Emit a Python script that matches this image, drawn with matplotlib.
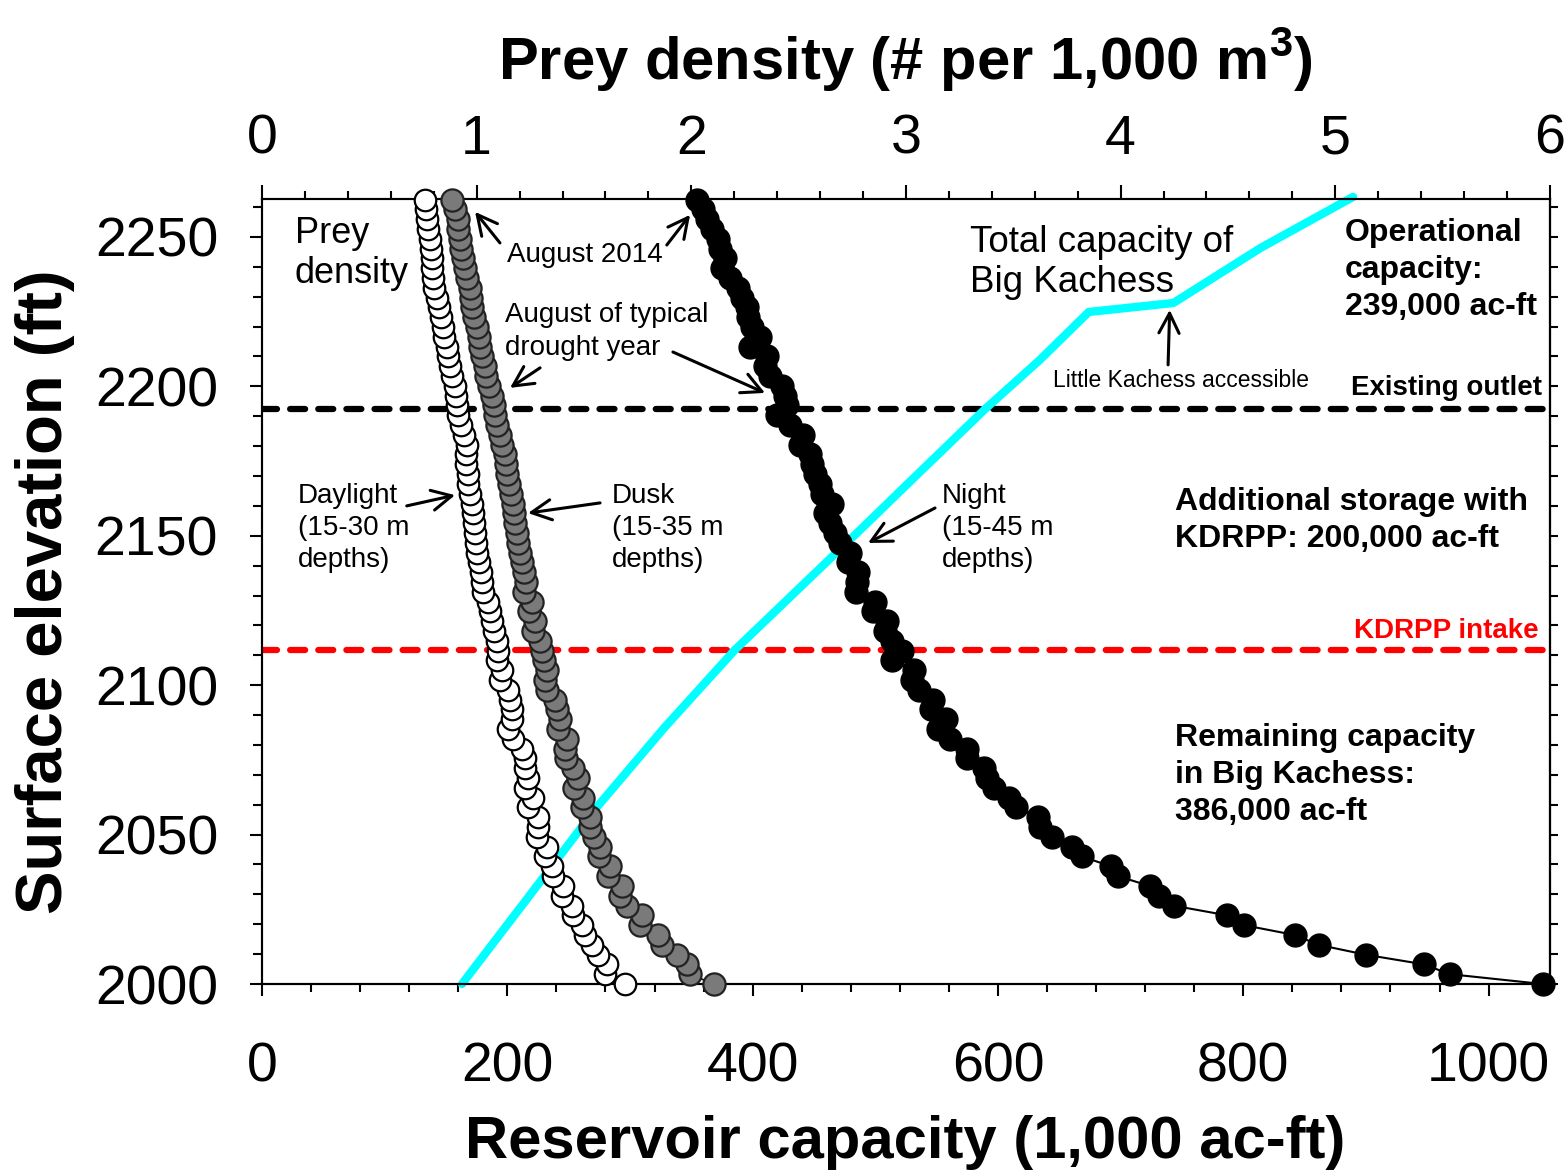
import numpy as np
import matplotlib
matplotlib.use("Agg")
import matplotlib.pyplot as plt
from matplotlib.ticker import MultipleLocator

plt.rcParams["font.family"] = "Liberation Sans"
plt.rcParams["mathtext.fontset"] = "custom"
plt.rcParams["mathtext.rm"] = "Liberation Sans"
plt.rcParams["mathtext.bf"] = "Liberation Sans:bold"

# surface elevation (ft), one sample per metre of depth
elev = [2000.0, 2003.3, 2006.6, 2009.8, 2013.1, 2016.4, 2019.7, 2023.0, 2026.2, 2029.5,
        2032.8, 2036.1, 2039.4, 2042.7, 2045.9, 2049.2, 2052.5, 2055.8, 2059.1, 2062.3,
        2065.6, 2068.9, 2072.2, 2075.5, 2078.7, 2082.0, 2085.3, 2088.6, 2091.9, 2095.1,
        2098.4, 2101.7, 2105.0, 2108.3, 2111.6, 2114.8, 2118.1, 2121.4, 2124.7, 2128.0,
        2131.2, 2134.5, 2137.8, 2141.1, 2144.4, 2147.6, 2150.9, 2154.2, 2157.5, 2160.8,
        2164.0, 2167.3, 2170.6, 2173.9, 2177.2, 2180.5, 2183.7, 2187.0, 2190.3, 2193.6,
        2196.9, 2200.1, 2203.4, 2206.7, 2210.0, 2213.3, 2216.5, 2219.8, 2223.1, 2226.4,
        2229.7, 2232.9, 2236.2, 2239.5, 2242.8, 2246.1, 2249.3, 2252.6, 2255.9, 2259.2,
        2262.5]

# prey density (# per 1,000 m3)
daylight = [1.691, 1.598, 1.607, 1.565, 1.537, 1.504, 1.490, 1.449, 1.444, 1.397,
            1.402, 1.355, 1.351, 1.318, 1.327, 1.281, 1.286, 1.286, 1.239, 1.262,
            1.225, 1.239, 1.225, 1.225, 1.211, 1.169, 1.146, 1.164, 1.164, 1.155,
            1.146, 1.109, 1.118, 1.095, 1.099, 1.095, 1.081, 1.071, 1.062, 1.053,
            1.029, 1.025, 1.020, 1.011, 1.001, 0.997, 0.992, 0.987, 0.983, 0.978,
            0.969, 0.959, 0.959, 0.950, 0.950, 0.955, 0.941, 0.927, 0.913, 0.908,
            0.904, 0.899, 0.885, 0.876, 0.866, 0.862, 0.848, 0.843, 0.834, 0.824,
            0.815, 0.801, 0.796, 0.792, 0.792, 0.787, 0.782, 0.773, 0.769, 0.764,
            0.759]
dusk = [2.105, 1.993, 1.980, 1.933, 1.863, 1.844, 1.761, 1.770, 1.700, 1.667,
        1.677, 1.612, 1.621, 1.570, 1.574, 1.546, 1.528, 1.528, 1.490, 1.495,
        1.453, 1.472, 1.449, 1.416, 1.411, 1.421, 1.379, 1.388, 1.374, 1.365,
        1.327, 1.318, 1.327, 1.313, 1.304, 1.295, 1.262, 1.272, 1.244, 1.258,
        1.220, 1.230, 1.220, 1.211, 1.202, 1.192, 1.188, 1.178, 1.174, 1.169,
        1.160, 1.150, 1.141, 1.136, 1.132, 1.118, 1.109, 1.095, 1.085, 1.081,
        1.071, 1.057, 1.043, 1.039, 1.025, 1.015, 1.011, 1.001, 0.987, 0.978,
        0.973, 0.969, 0.955, 0.946, 0.936, 0.927, 0.922, 0.913, 0.913, 0.899,
        0.885]
night = [5.966, 5.533, 5.412, 5.142, 4.923, 4.811, 4.574, 4.495, 4.248, 4.178,
         4.136, 3.987, 3.954, 3.819, 3.773, 3.680, 3.624, 3.614, 3.512, 3.479,
         3.409, 3.377, 3.363, 3.284, 3.284, 3.204, 3.149, 3.186, 3.116, 3.125,
         3.060, 3.027, 3.037, 2.934, 2.981, 2.934, 2.902, 2.911, 2.846, 2.855,
         2.767, 2.771, 2.776, 2.729, 2.739, 2.692, 2.669, 2.646, 2.622, 2.655,
         2.608, 2.599, 2.576, 2.562, 2.552, 2.506, 2.520, 2.459, 2.399, 2.445,
         2.436, 2.422, 2.366, 2.343, 2.352, 2.273, 2.320, 2.282, 2.264, 2.259,
         2.236, 2.217, 2.180, 2.143, 2.156, 2.133, 2.124, 2.096, 2.073, 2.054,
         2.026]

# total capacity of Big Kachess (1,000 ac-ft) vs elevation
cap_kaf = [163, 218.5, 273, 328.5, 385.5, 445, 487.5, 536.5, 589.5, 634, 674, 743, 814, 889.5]
cap_elev = [2000, 2029.8, 2059.2, 2086.0, 2111.8, 2135.2, 2151.9, 2171.4, 2192.4, 2208.8,
            2224.9, 2227.9, 2246.3, 2263.4]

outlet_elev = 2192.4
intake_elev = 2111.8

fig = plt.figure(figsize=(15.67, 11.72), dpi=100)
ax = fig.add_axes([0.1672, 0.1604, 0.8219, 0.6698])
ax.set_xlim(0, 1050)
ax.set_ylim(2000, 2262.7)

ax.plot(cap_kaf, cap_elev, color="#00FFFF", lw=6, solid_capstyle="round", solid_joinstyle="round",
        zorder=2, clip_on=False)
ax.axhline(outlet_elev, color="black", lw=4.5, dashes=(2.4, 2.1), dash_capstyle="round", zorder=1)
ax.axhline(intake_elev, color="red", lw=4.5, dashes=(2.4, 2.1), dash_capstyle="round", zorder=1)

ax.xaxis.set_major_locator(MultipleLocator(200))
ax.xaxis.set_minor_locator(MultipleLocator(40))
ax.yaxis.set_major_locator(MultipleLocator(50))
ax.yaxis.set_minor_locator(MultipleLocator(10))
ax.tick_params(axis="x", which="major", length=8.6, width=1.5, labelsize=40, pad=33)
ax.tick_params(axis="x", which="minor", length=5.8, width=1.5)
ax.tick_params(axis="y", which="major", length=8.6, width=1.5, labelsize=40, pad=23)
ax.tick_params(axis="y", which="minor", length=6.5, width=1.5)

sec = ax.secondary_yaxis("right")
sec.set_yticks(np.arange(2000, 2261, 10))
sec.tick_params(length=6, width=1.5, labelright=False)
sec.spines["right"].set_linewidth(1.5)

ax2 = ax.twiny()
ax2.set_xlim(0, 6)
ax2.xaxis.set_major_locator(MultipleLocator(1))
ax2.xaxis.set_minor_locator(MultipleLocator(0.2))
ax2.tick_params(axis="x", which="major", length=10, width=1.5, labelsize=40, pad=14)
ax2.tick_params(axis="x", which="minor", length=5.8, width=1.5)

for a in (ax, ax2):
    for s in a.spines.values():
        s.set_linewidth(1.5)

ax2.plot(daylight, elev, "-", color="black", lw=1.2, marker="o", ms=15.5,
         mfc="white", mec="black", mew=1.6, clip_on=False, zorder=3)
ax2.plot(dusk, elev, "-", color="black", lw=1.2, marker="o", ms=16,
         mfc="#7a7a7a", mec="#222222", mew=1.6, clip_on=False, zorder=3)
ax2.plot(night, elev, "-", color="black", lw=1.5, marker="o", ms=16.5,
         mfc="black", mec="black", mew=1.0, clip_on=False, zorder=3)

# labels
fig.text(905 / 1567, 1 - 80 / 1172, r"Prey density (# per 1,000 m$^{\mathbf{3}}$)",
         ha="center", va="baseline", fontsize=43, fontweight="bold")
fig.text(905 / 1567, 1 - 1158 / 1172, "Reservoir capacity (1,000 ac-ft)",
         ha="center", va="baseline", fontsize=43, fontweight="bold")
fig.text(45 / 1567, 1 - 592 / 1172, "Surface elevation (ft)", rotation=90,
         ha="center", va="center", fontsize=47, fontweight="bold")

# annotations
ax.text(26.9, 2244.5, "Prey\ndensity", fontsize=26, ha="left", va="center", linespacing=1.2)
ax.text(577, 2241.5, "Total capacity of\nBig Kachess", fontsize=26.5, ha="left", va="center",
        linespacing=1.2)
ax.text(199.8, 2244.0, "August 2014", fontsize=20, ha="left", va="center")
ax.text(198, 2218.4, "August of typical\ndrought year", fontsize=20, ha="left", va="center",
        linespacing=1.35)
ax.text(29.4, 2152.6, "Daylight\n(15-30 m\ndepths)", fontsize=20, ha="left", va="center",
        linespacing=1.3)
ax.text(285.4, 2152.6, "Dusk\n(15-35 m\ndepths)", fontsize=20, ha="left", va="center",
        linespacing=1.3)
ax.text(554.4, 2152.6, "Night\n(15-45 m\ndepths)", fontsize=20, ha="left", va="center",
        linespacing=1.3)
ax.text(645, 2201.8, "Little Kachess accessible", fontsize=16.5, ha="left", va="center")
ax.text(883, 2239.0, "Operational\ncapacity:\n239,000 ac-ft", fontsize=23, fontweight="bold",
        ha="left", va="center", linespacing=1.3)
ax.text(1043.6, 2199.5, "Existing outlet", fontsize=20, fontweight="bold", ha="right", va="center")
ax.text(744.4, 2155.0, "Additional storage with\nKDRPP: 200,000 ac-ft", fontsize=23,
        fontweight="bold", ha="left", va="center", linespacing=1.3)
ax.text(1040.4, 2118.1, "KDRPP intake", fontsize=20, fontweight="bold", color="red",
        ha="right", va="center")
ax.text(744.4, 2070.0, "Remaining capacity\nin Big Kachess:\n386,000 ac-ft", fontsize=23,
        fontweight="bold", ha="left", va="center", linespacing=1.3)

arrows = [
    ((194.0, 2248.0), (173.7, 2258.4)),
    ((330.0, 2247.3), (349.0, 2257.4)),
    ((226.7, 2206.2), (202.2, 2199.5)),
    ((335.0, 2211.5), (410.1, 2197.8)),
    ((118.0, 2160.0), (157.4, 2163.6)),
    ((275.6, 2161.0), (216.9, 2157.6)),
    ((548.7, 2159.3), (494.1, 2147.6)),
    ((738.7, 2207.2), (740.0, 2225.6)),
]
for tail, head in arrows:
    ax.annotate("", xy=head, xytext=tail,
                arrowprops=dict(arrowstyle="->,head_length=0.65,head_width=0.33",
                                mutation_scale=22, lw=2.2, color="black",
                                shrinkA=0, shrinkB=0))

fig.savefig("out.png", dpi=100)
